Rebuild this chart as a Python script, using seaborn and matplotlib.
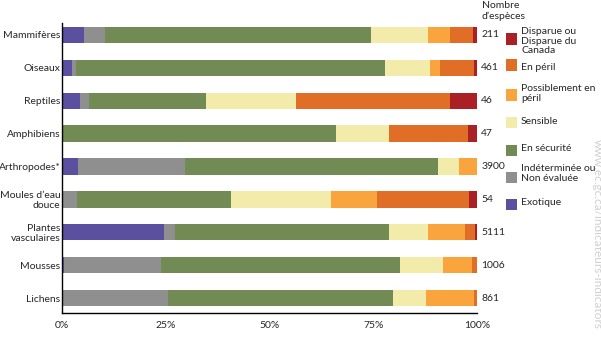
import numpy as np
import pandas as pd
import matplotlib
matplotlib.use("Agg")
import matplotlib.pyplot as plt
import matplotlib.transforms as mtransforms
from matplotlib.patches import Rectangle
import seaborn as sns

# ---------------- data ----------------
categories = ["Mammifères", "Oiseaux", "Reptiles", "Amphibiens", "Arthropodes*",
              "Moules d’eau\ndouce", "Plantes\nvasculaires", "Mousses", "Lichens"]
counts = [211, 461, 46, 47, 3900, 54, 5111, 1006, 861]

exotique     = [5.4, 2.5, 4.3, 0.0, 3.9, 0.0, 24.6, 0.5, 0.3]
indeterminee = [5.0, 0.9, 2.2, 0.0, 25.8, 3.7, 2.6, 23.4, 25.3]
en_securite  = [64.1, 74.5, 28.3, 66.0, 61.0, 37.0, 51.7, 57.6, 54.2]
sensible     = [13.7, 10.8, 21.7, 12.8, 5.0, 24.1, 9.3, 10.4, 7.9]
possiblement = [5.3, 2.4, 0.0, 0.0, 4.3, 11.1, 8.8, 6.9, 11.6]
en_peril     = [5.5, 8.2, 37.0, 19.1, 0.0, 22.2, 2.6, 1.2, 0.7]
disparue     = [1.0, 0.7, 6.5, 2.1, 0.0, 1.9, 0.4, 0.0, 0.0]

tick_values = [0, 25, 50, 75, 100]
tick_labels = ["0%", "25%", "50%", "75%", "100%"]

series_names = ["Exotique", "Indéterminée ou\nNon évaluée", "En sécurité", "Sensible",
                "Possiblement en\npéril", "En péril", "Disparue ou\nDisparue du\nCanada"]
series_values = [exotique, indeterminee, en_securite, sensible, possiblement, en_peril, disparue]
colors = ["#5B4F9F", "#8F8F8F", "#728A53", "#F3EBAA", "#F9A43D", "#E06E27", "#AA2024"]

# ---------------- figure ----------------
sns.set_style("white")
plt.rcParams["font.family"] = ["Lato", "DejaVu Sans"]
FS = 7.5

W, H = 601, 338
fig = plt.figure(figsize=(W / 100, H / 100), dpi=100)
ax = fig.add_axes([62 / W, 1 - 313 / H, (477 - 62) / W, (313 - 23) / H])

cum = np.cumsum(np.array(series_values), axis=0)
df = pd.DataFrame({"cat": categories})
for i in range(len(series_names) - 1, -1, -1):
    df["v"] = cum[i]
    sns.barplot(data=df, x="v", y="cat", orient="h", color=colors[i],
                saturation=1, width=0.5, ax=ax, order=categories, linewidth=0)

ax.set_xlim(0, 100)
ax.set_ylim(8.456, -0.365)
ax.set_xlabel("")
ax.set_ylabel("")

for s in ["top", "right"]:
    ax.spines[s].set_visible(False)
for s in ["left", "bottom"]:
    ax.spines[s].set_color("black")
    ax.spines[s].set_linewidth(1.0)
    ax.spines[s].set_zorder(5)

ax.set_xticks(tick_values)
ax.set_xticklabels(tick_labels, fontsize=FS)
offset = mtransforms.ScaledTranslation(4 / 100, 0, fig.dpi_scale_trans)
for lab in ax.get_xticklabels():
    lab.set_transform(lab.get_transform() + offset)
ax.tick_params(axis="x", direction="out", length=4, width=1, color="black", pad=2)
ax.tick_params(axis="y", length=0, pad=1, labelsize=FS)
for lab in ax.get_yticklabels():
    lab.set_linespacing(1.15)

# counts
for i, c in enumerate(counts):
    ax.text(101, i, str(c), va="center", ha="left", fontsize=FS, clip_on=False)

fig.text(482 / W, 1 - 0.5 / H, "Nombre\nd’espèces", ha="left", va="top",
         fontsize=FS, linespacing=1.3)

# legend (manual)
legend_rows = [  # (series index, square center y, text top y)
    (6, 39, 27),
    (5, 65, 63),
    (4, 95, 84),
    (3, 122, 117),
    (2, 150, 144),
    (1, 177, 164),
    (0, 204, 198),
]
for idx, sy, ty in legend_rows:
    fig.patches.append(Rectangle((506 / W, 1 - (sy + 5.5) / H), 11 / W, 11 / H,
                                 transform=fig.transFigure, facecolor=colors[idx],
                                 edgecolor="none"))
    fig.text(521 / W, 1 - ty / H, series_names[idx], ha="left", va="top",
             fontsize=FS, linespacing=1.1)

# watermark
fig.text(597 / W, 1 - 139 / H, "www.ec.gc.ca/indicateurs-indicators", rotation=-90,
         ha="center", va="top", fontsize=8.6, color="#D0D0D0")

fig.savefig("out.png", dpi=100)
